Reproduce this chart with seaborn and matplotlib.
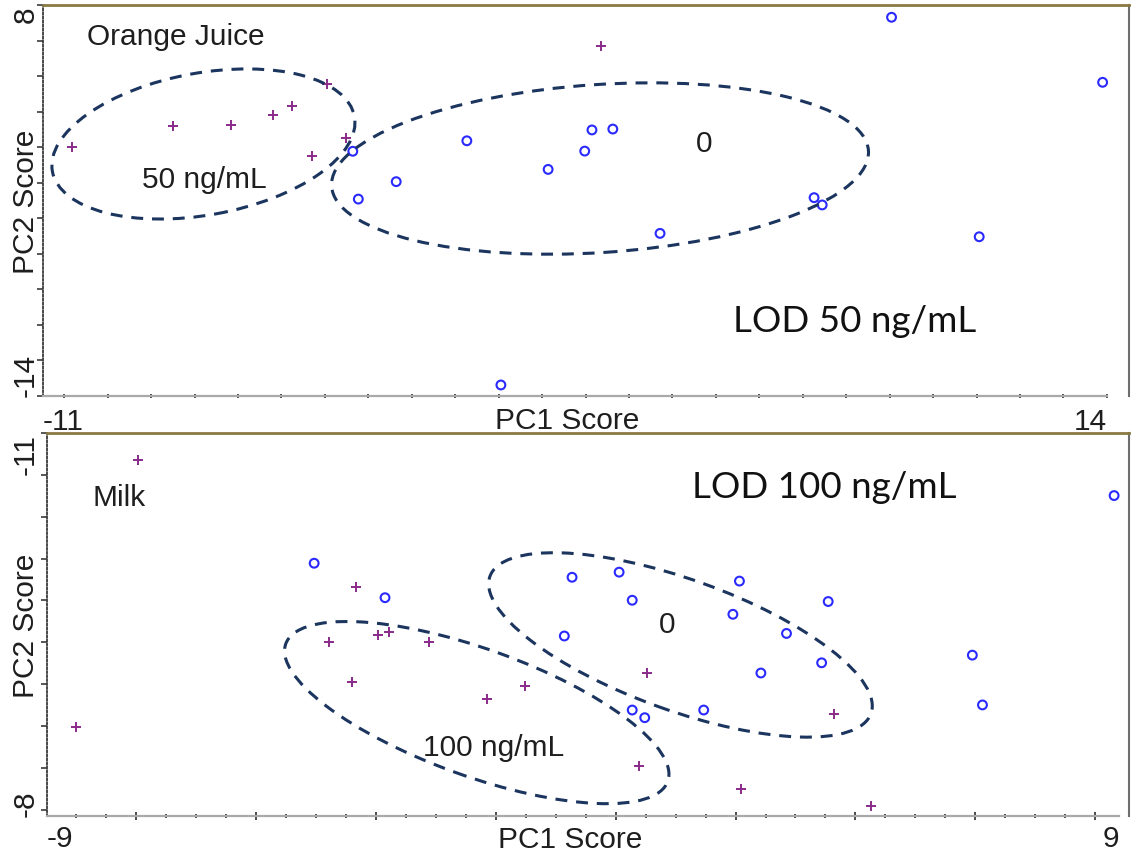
import numpy as np
import pandas as pd
import matplotlib
matplotlib.use("Agg")
import matplotlib.pyplot as plt
import matplotlib.transforms as mtransforms
from matplotlib.patches import Ellipse
import seaborn as sns

# ---------------------------------------------------------------------------
# PCA scores, orange juice (blank = 0, spiked = 50 ng/mL)
# ---------------------------------------------------------------------------
oj_blank_pc1 = [-3.72, -3.59, -2.70, -1.04, 0.87, 1.73, 1.90, 2.39, 3.50,
                -0.24, 8.94, 13.90, 7.12, 7.31, 11.00]
oj_blank_pc2 = [-0.23, -2.92, -1.94, 0.36, -1.25, -0.22, 0.97, 1.02, -4.85,
                -13.38, 7.31, 3.65, -2.84, -3.25, -5.04]
oj_spiked_pc1 = [-10.31, -7.94, -6.59, -5.59, -5.15, -4.33, -3.89, -4.69, 2.12]
oj_spiked_pc2 = [0.03, 1.21, 1.26, 1.81, 2.30, 3.55, 0.52, -0.48, 5.71]

# PCA scores, milk (blank = 0, spiked = 100 ng/mL)
milk_blank_pc1 = [-4.51, -3.32, -0.18, 0.61, 0.83, -0.31, 2.63, 2.52, 0.83,
                  1.04, 2.03, 4.12, 3.42, 4.01, 2.99, 6.54, 6.71, 8.92]
milk_blank_pc2 = [-9.98, -9.71, -9.87, -9.91, -9.69, -9.41, -9.84, -9.58, -8.83,
                  -8.77, -8.83, -9.68, -9.43, -9.20, -9.12, -9.26, -8.87, -10.51]
milk_spiked_pc1 = [-7.46, -8.51, -3.81, -4.26, -3.87, -3.43, -3.26, -2.59,
                   -0.97, -1.61, 1.08, 0.95, 2.66, 4.22, 4.84]
milk_spiked_pc2 = [-10.79, -8.70, -9.79, -9.36, -9.05, -9.42, -9.44, -9.36,
                   -9.02, -8.92, -9.12, -8.39, -8.21, -8.80, -8.08]

# Group ellipse centres (data units)
oj_ellipse_x = [-7.23, 2.09]
oj_ellipse_y = [0.18, -1.20]
milk_ellipse_x = [-1.78, 1.64]
milk_ellipse_y = [-8.81, -9.34]

# Axis end labels
oj_x_ends = [-11, 14]
oj_y_ends = [-14, 8]
milk_x_ends = [-9, 9]
milk_y_ends = [-8, -11]

group_labels = ["0", "50 ng/mL", "100 ng/mL"]

# ---------------------------------------------------------------------------
BLUE = "#2a2aff"
PURPLE = "#8a2a8a"
NAVY = "#1b355e"
OLIVE = "#8a7a42"
TEXT = "#1e1e1e"
FS = 21.5

sns.set_style("white")
plt.rcParams["font.family"] = ["Liberation Sans", "DejaVu Sans"]

fig = plt.figure(figsize=(11.31, 8.53), dpi=100)
ax_oj = fig.add_axes([0.03802, 0.53458, 0.96021, 0.45838])
ax_milk = fig.add_axes([0.04129, 0.04220, 0.95694, 0.44900])


def scores(pc1, pc2, group):
    return pd.DataFrame({"PC1 Score": pc1, "PC2 Score": pc2, "group": group})


def plot_scores(ax, blank, spiked):
    sns.scatterplot(data=blank, x="PC1 Score", y="PC2 Score", ax=ax,
                    marker="o", s=40, color=BLUE, facecolor="none",
                    edgecolor=BLUE, linewidth=1.5, legend=False, zorder=2)
    sns.scatterplot(data=spiked, x="PC1 Score", y="PC2 Score", ax=ax,
                    marker="+", s=48, color=PURPLE, linewidth=1.4,
                    legend=False, zorder=2)


def add_ellipse(ax, cx, cy, w_in, h_in, angle):
    tr = fig.dpi_scale_trans + mtransforms.ScaledTranslation(cx, cy, ax.transData)
    ax.add_patch(Ellipse((0, 0), w_in, h_in, angle=angle, transform=tr,
                         fill=False, edgecolor=NAVY, linewidth=2.2,
                         linestyle=(0, (3.9, 2.9)), zorder=3, clip_on=False))


def style_axes(ax, xlim, ylim, x_ends, y_ends, xminor, xmajor, yminor,
               x_lab_y, y_lab_x, xlabel_pos, ylabel_x):
    ax.set_xlim(*xlim)
    ax.set_ylim(*ylim)
    for side in ("top", "right", "bottom", "left"):
        ax.spines[side].set_visible(True)
    ax.spines["top"].set_color(OLIVE)
    ax.spines["top"].set_linewidth(2.0)
    ax.spines["right"].set_color("#6e6e6e")
    ax.spines["right"].set_linewidth(1.5)
    ax.spines["bottom"].set_color("#a9a9a9")
    ax.spines["bottom"].set_linewidth(1.6)
    ax.spines["bottom"].set_bounds(x_ends[0], x_ends[1])
    ax.spines["left"].set_color("#3a3a3a")
    ax.spines["left"].set_linewidth(1.3)
    ax.spines["left"].set_linestyle((0, (1, 1.2)))

    ax.set_xticks(xmajor if xmajor is not None else [])
    ax.set_xticks(xminor, minor=True)
    ax.set_yticks([])
    ax.set_yticks(yminor, minor=True)
    ax.tick_params(axis="x", which="both", bottom=True, top=False,
                   labelbottom=False, direction="inout", color="#2a2a2a",
                   width=1.2)
    ax.tick_params(axis="x", which="minor", length=3)
    ax.tick_params(axis="x", which="major", length=6)
    ax.tick_params(axis="y", which="minor", left=True, right=False,
                   direction="out", length=4, width=1.1, color="#2a2a2a")

    xt = mtransforms.blended_transform_factory(ax.transData, ax.transAxes)
    yt = mtransforms.blended_transform_factory(ax.transAxes, ax.transData)
    ax.text(x_ends[0], x_lab_y, str(x_ends[0]), transform=xt, ha="left",
            va="top", fontsize=FS, color=TEXT, clip_on=False)
    ax.text(x_ends[1], x_lab_y, str(x_ends[1]), transform=xt, ha="right",
            va="top", fontsize=FS, color=TEXT, clip_on=False)
    # lower end label sits on the bottom of the axis, upper end on the top
    lo, hi = (y_ends[0], y_ends[1])
    ax.text(y_lab_x, lo, str(lo), transform=yt, rotation=90, ha="right",
            va="bottom", fontsize=FS, color=TEXT, clip_on=False)
    ax.text(y_lab_x, hi, str(hi), transform=yt, rotation=90, ha="right",
            va="top", fontsize=FS, color=TEXT, clip_on=False)

    ax.set_xlabel("PC1 Score", fontsize=FS, color=TEXT)
    ax.set_ylabel("PC2 Score", fontsize=FS, color=TEXT)
    ax.xaxis.set_label_coords(*xlabel_pos)
    ax.yaxis.set_label_coords(ylabel_x, 0.5)


# ---------------- Orange juice panel ----------------
oj_blank = scores(oj_blank_pc1, oj_blank_pc2, group_labels[0])
oj_spiked = scores(oj_spiked_pc1, oj_spiked_pc2, group_labels[1])
plot_scores(ax_oj, oj_blank, oj_spiked)
style_axes(ax_oj, xlim=(-11, 14.52), ylim=(-14, 8), x_ends=oj_x_ends,
           y_ends=oj_y_ends, xminor=np.linspace(-10.5, 14, 25), xmajor=None,
           yminor=np.arange(-14, 9, 2), x_lab_y=-0.029, y_lab_x=-0.0031,
           xlabel_pos=(0.4825, -0.0248), ylabel_x=-0.0031)
add_ellipse(ax_oj, oj_ellipse_x[0], oj_ellipse_y[0], 3.07, 1.42, 10.3)
add_ellipse(ax_oj, oj_ellipse_x[1], oj_ellipse_y[1], 5.38, 1.68, 3.8)

ax_oj.text(0.0405, 0.9003, "Orange Juice", transform=ax_oj.transAxes,
           ha="left", va="baseline", fontsize=FS, color=TEXT)
ax_oj.text(-7.22, -2.26, group_labels[1], ha="center", va="baseline",
           fontsize=FS, color=TEXT)
ax_oj.text(4.54, -0.20, group_labels[0], ha="center", va="baseline",
           fontsize=FS, color=TEXT)
ax_oj.text(0.7472, 0.1662, "LOD 50 ng/mL", transform=ax_oj.transAxes,
           ha="center", va="baseline", fontsize=26.5, color="#111111",
           family=["Lato", "DejaVu Sans"])

# ---------------- Milk panel ----------------
milk_blank = scores(milk_blank_pc1, milk_blank_pc2, group_labels[0])
milk_spiked = scores(milk_spiked_pc1, milk_spiked_pc2, group_labels[2])
plot_scores(ax_milk, milk_blank, milk_spiked)
milk_xminor = np.linspace(-8.5, 8.6, 35)
style_axes(ax_milk, xlim=(-9, 9.17), ylim=(-8, -11), x_ends=milk_x_ends,
           y_ends=milk_y_ends, xminor=milk_xminor, xmajor=milk_xminor[2::4],
           yminor=np.linspace(-11, -8.05, 10), x_lab_y=-0.0201,
           y_lab_x=-0.0066, xlabel_pos=(0.484, -0.0235), ylabel_x=-0.0066)
add_ellipse(ax_milk, milk_ellipse_x[0], milk_ellipse_y[0], 4.06, 1.27, -19.8)
add_ellipse(ax_milk, milk_ellipse_x[1], milk_ellipse_y[1], 4.05, 1.31, -19.8)

ax_milk.text(0.0425, 0.8112, "Milk", transform=ax_milk.transAxes,
             ha="left", va="baseline", fontsize=FS, color=TEXT)
ax_milk.text(0.7184, 0.8329, "LOD 100 ng/mL", transform=ax_milk.transAxes,
             ha="center", va="baseline", fontsize=26.5, color="#111111",
             family=["Lato", "DejaVu Sans"])
ax_milk.text(1.42, -9.44, group_labels[0], ha="center", va="baseline",
             fontsize=FS, color=TEXT)
ax_milk.text(-1.50, -8.48, group_labels[2], ha="center", va="baseline",
             fontsize=FS, color=TEXT)

fig.savefig("out.png", dpi=100)
